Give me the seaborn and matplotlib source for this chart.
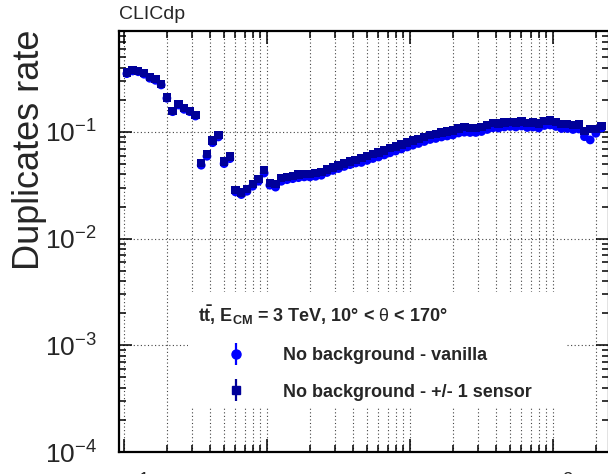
import numpy as np
import pandas as pd
import matplotlib
matplotlib.use("Agg")
import matplotlib.pyplot as plt
import matplotlib.ticker as mticker
from matplotlib.lines import Line2D
from matplotlib.patches import Rectangle
from matplotlib.legend_handler import HandlerTuple
import seaborn as sns

# ---------------- data ----------------
bin_centers = [0.1047, 0.1148, 0.1259, 0.1380, 0.1514, 0.1660, 0.1820, 0.1995, 0.2188, 0.2399,
               0.2630, 0.2884, 0.3162, 0.3467, 0.3802, 0.4169, 0.4571, 0.5012, 0.5495, 0.6026,
               0.6607, 0.7244, 0.7943, 0.8710, 0.9550, 1.047, 1.148, 1.259, 1.380, 1.514,
               1.660, 1.820, 1.995, 2.188, 2.399, 2.630, 2.884, 3.162, 3.467, 3.802,
               4.169, 4.571, 5.012, 5.495, 6.026, 6.607, 7.244, 7.943, 8.710, 9.550,
               10.47, 11.48, 12.59, 13.80, 15.14, 16.60, 18.20, 19.95, 21.88, 23.99,
               26.30, 28.84, 31.62, 34.67, 38.02, 41.69, 45.71, 50.12, 54.95, 60.26,
               66.07, 72.44, 79.43, 87.10, 95.50, 104.7, 114.8, 125.9, 138.0, 151.4,
               166.0, 182.0, 199.5, 218.8]

rate_sensor = [0.360, 0.381, 0.375, 0.355, 0.326, 0.312, 0.282, 0.211, 0.158, 0.183,
               0.167, 0.158, 0.144, 0.0509, 0.0618, 0.0829, 0.0937, 0.0527, 0.0587, 0.0286,
               0.0270, 0.0290, 0.0324, 0.0360, 0.0440, 0.0331, 0.0324, 0.0368, 0.0381, 0.0389,
               0.0398, 0.0404, 0.0404, 0.0410, 0.0419, 0.0445, 0.0465, 0.0485, 0.0507, 0.0527,
               0.0546, 0.0571, 0.0596, 0.0622, 0.0643, 0.0671, 0.0703, 0.0731, 0.0764, 0.0797,
               0.0829, 0.0860, 0.0898, 0.0937, 0.0958, 0.0989, 0.1011, 0.1033, 0.1078, 0.1121,
               0.1090, 0.1090, 0.1114, 0.1163, 0.1206, 0.1201, 0.1227, 0.1241, 0.1227, 0.1254,
               0.1214, 0.1227, 0.1201, 0.1268, 0.1282, 0.1241, 0.1189, 0.1189, 0.1163, 0.1176,
               0.1022, 0.1067, 0.1067, 0.1138]

rate_vanilla = [0.352, 0.373, 0.367, 0.348, 0.319, 0.305, 0.276, 0.207, 0.155, 0.179,
                0.163, 0.155, 0.141, 0.0488, 0.0592, 0.0794, 0.0898, 0.0505, 0.0562, 0.0274,
                0.0259, 0.0278, 0.0310, 0.0345, 0.0412, 0.0317, 0.0304, 0.0345, 0.0357, 0.0365,
                0.0373, 0.0379, 0.0379, 0.0384, 0.0393, 0.0417, 0.0436, 0.0454, 0.0475, 0.0494,
                0.0512, 0.0518, 0.0541, 0.0564, 0.0583, 0.0609, 0.0638, 0.0663, 0.0693, 0.0723,
                0.0752, 0.0780, 0.0814, 0.0850, 0.0869, 0.0897, 0.0917, 0.0937, 0.0978, 0.0995,
                0.0989, 0.0989, 0.1010, 0.1055, 0.1094, 0.1089, 0.1113, 0.1126, 0.1113, 0.1137,
                0.1101, 0.1113, 0.1089, 0.1150, 0.1163, 0.1126, 0.1078, 0.1078, 0.1055, 0.1067,
                0.0903, 0.0842, 0.0972, 0.1090]

series_labels = ["No background - vanilla", "No background - +/- 1 sensor"]
x_tick_values = [0.1, 1, 10, 100]
x_tick_labels = [r"$10^{-1}$", r"$1$", r"$10$", r"$10^{2}$"]

# ---------------- style ----------------
sns.set_style("ticks")
plt.rcParams["font.family"] = ["Liberation Sans", "DejaVu Sans"]
plt.rcParams["mathtext.fontset"] = "custom"
plt.rcParams["mathtext.rm"] = "Liberation Sans"
plt.rcParams["mathtext.bf"] = "Liberation Sans:bold"
plt.rcParams["mathtext.it"] = "Liberation Sans:italic"
plt.rcParams["mathtext.sf"] = "Liberation Sans"

W, H = 608, 474
fig = plt.figure(figsize=(W / 100, H / 100), dpi=100)
ax_left, ax_right, ax_top, ax_bottom = 119, 609, 31, 452
ax = fig.add_axes([ax_left / W, 1 - ax_bottom / H, (ax_right - ax_left) / W, (ax_bottom - ax_top) / H])

c_vanilla = "#0000ff"
c_sensor = "#000099"

df = pd.DataFrame({"x": bin_centers, "vanilla": rate_vanilla, "sensor": rate_sensor})
sns.scatterplot(data=df, x="x", y="vanilla", marker="o", color=c_vanilla, s=40,
                edgecolor="none", linewidth=0, ax=ax, legend=False, zorder=3)
sns.scatterplot(data=df, x="x", y="sensor", marker="s", color=c_sensor, s=36,
                edgecolor="none", linewidth=0, ax=ax, legend=False, zorder=4)

ax.set_xscale("log")
ax.set_yscale("log")
ax.set_xlim(10 ** (-1 + (ax_left - 124) / 143), 10 ** (-1 + (ax_right - 124) / 143))
ax.set_ylim(1e-4, 10 ** (-1 + (132 - ax_top) / 106.7))

ax.xaxis.set_major_locator(mticker.FixedLocator(x_tick_values))
ax.xaxis.set_major_formatter(mticker.FixedFormatter(x_tick_labels))
ax.xaxis.set_minor_locator(mticker.LogLocator(base=10, subs=np.arange(2, 10), numticks=20))
ax.xaxis.set_minor_formatter(mticker.NullFormatter())
ax.yaxis.set_major_locator(mticker.LogLocator(base=10, numticks=10))
ax.yaxis.set_minor_locator(mticker.LogLocator(base=10, subs=np.arange(2, 10), numticks=20))
ax.yaxis.set_minor_formatter(mticker.NullFormatter())

ax.tick_params(which="both", direction="in", top=True, right=True, width=1.1, color="black")
ax.tick_params(which="major", length=9.5)
ax.tick_params(which="minor", length=5)
ax.tick_params(axis="y", which="major", labelsize=19, pad=16)
ax.tick_params(axis="x", which="major", labelsize=19, pad=16)
for sp in ax.spines.values():
    sp.set_linewidth(1.6)
    sp.set_color("black")

ax.set_axisbelow(True)
ax.grid(True, axis="x", which="both", color="#444444", linestyle=(0, (1, 2.2)), linewidth=0.8)
ax.grid(True, axis="y", which="major", color="#444444", linestyle=(0, (1, 2.2)), linewidth=0.8)

# white box behind the legend (hides grid lines)
ax.add_patch(Rectangle((188 / W, 1 - 408 / H), 379 / W, 116 / H, transform=fig.transFigure,
                       facecolor="white", edgecolor="none", zorder=1))

ax.set_xlabel("")
ax.set_ylabel("Duplicates rate", fontsize=26, loc="top")
ax.yaxis.set_label_coords((47 - ax_left) / (ax_right - ax_left), (ax_bottom - 30) / (ax_bottom - ax_top))
ax.set_title("CLICdp", loc="left", fontsize=14, pad=8.5)

# legend
def handle(marker, color, ms):
    bar = Line2D([], [], marker="|", markersize=16, markeredgewidth=1.6, color=color, linestyle="none")
    mk = Line2D([], [], marker=marker, markersize=ms, color=color, markeredgecolor=color, linestyle="none")
    return (bar, mk)

handles = [handle("o", c_vanilla, 6.5), handle("s", c_sensor, 6)]
leg = ax.legend(handles, series_labels,
                handler_map={tuple: HandlerTuple(ndivide=1)},
                title=r"$\mathbf{t\bar{t}}$, $\mathbf{E_{CM}}$ = 3 TeV, 10° < $\mathrm{\theta}$ < 170°",
                loc="upper left", bbox_to_anchor=(198 / W, 1 - 303 / H), bbox_transform=fig.transFigure,
                frameon=False, borderpad=0, borderaxespad=0, handlelength=4.2, handletextpad=0.5,
                labelspacing=1.1, alignment="left",
                prop={"size": 13, "weight": "bold"},
                title_fontproperties={"size": 13, "weight": "bold"})

fig.savefig("out.png", dpi=100)
